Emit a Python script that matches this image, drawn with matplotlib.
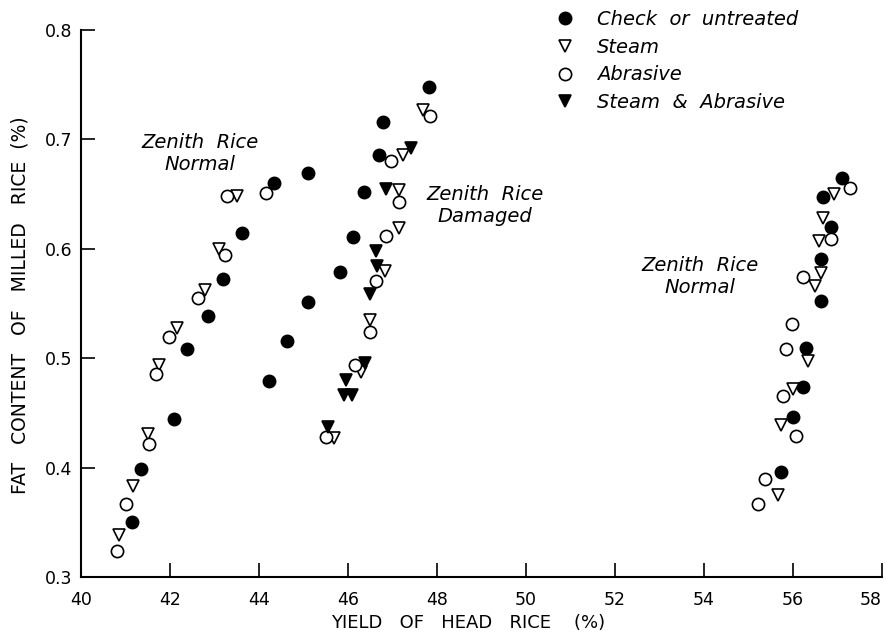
import matplotlib
matplotlib.use("Agg")
import matplotlib.pyplot as plt

# Fat content vs yield of head rice
check_x = [41.15, 41.35, 42.09, 42.38, 42.86, 43.20, 43.61, 44.34, 45.11,
           44.23, 44.63, 45.09, 45.82, 46.12, 46.37, 46.70, 46.78, 47.83,
           55.73, 55.99, 56.23, 56.29, 56.63, 56.62, 56.85, 56.68, 57.09]
check_y = [0.350, 0.399, 0.444, 0.508, 0.539, 0.572, 0.614, 0.660, 0.669,
           0.479, 0.516, 0.551, 0.579, 0.611, 0.652, 0.686, 0.716, 0.748,
           0.396, 0.446, 0.474, 0.509, 0.552, 0.591, 0.620, 0.647, 0.665]

steam_x = [40.86, 41.16, 41.51, 41.76, 42.16, 42.79, 43.09, 43.50,
           45.68, 46.30, 46.50, 46.83, 47.15, 47.15, 47.24, 47.69,
           55.66, 55.72, 56.01, 56.33, 56.49, 56.62, 56.58, 56.67, 56.93]
steam_y = [0.338, 0.383, 0.431, 0.494, 0.528, 0.562, 0.600, 0.648,
           0.427, 0.487, 0.535, 0.580, 0.619, 0.654, 0.686, 0.727,
           0.375, 0.439, 0.472, 0.497, 0.566, 0.578, 0.607, 0.628, 0.650]

abras_x = [40.80, 41.01, 41.53, 41.69, 41.98, 42.64, 43.24, 43.27, 44.16,
           45.50, 46.15, 46.50, 46.62, 46.85, 47.15, 46.97, 47.84,
           55.21, 55.36, 56.07, 55.77, 55.84, 55.98, 56.23, 56.85, 57.27]
abras_y = [0.324, 0.367, 0.422, 0.486, 0.519, 0.555, 0.594, 0.648, 0.651,
           0.428, 0.494, 0.524, 0.571, 0.612, 0.643, 0.680, 0.721,
           0.367, 0.390, 0.429, 0.465, 0.508, 0.531, 0.574, 0.609, 0.656]

sa_x = [45.55, 45.90, 46.08, 45.95, 46.38, 46.49, 46.66, 46.63, 46.85, 47.42]
sa_y = [0.437, 0.466, 0.466, 0.480, 0.496, 0.559, 0.584, 0.598, 0.655, 0.692]

labels = ["Check  or  untreated", "Steam", "Abrasive", "Steam  &  Abrasive"]
xticks = [40, 42, 44, 46, 48, 50, 52, 54, 56, 58]
yticks = [0.3, 0.4, 0.5, 0.6, 0.7, 0.8]

fig = plt.figure(figsize=(8.87, 6.39), dpi=100)
ax = fig.add_axes([81 / 887, 62 / 639, 801 / 887, 547 / 639])

ms = 8.8
mew = 1.2
h1, = ax.plot(check_x, check_y, "o", ms=ms, color="black", mew=mew)
h2, = ax.plot(steam_x, steam_y, "v", ms=ms, mfc="white", mec="black", mew=mew)
h3, = ax.plot(abras_x, abras_y, "o", ms=ms, mfc="white", mec="black", mew=mew)
h4, = ax.plot(sa_x, sa_y, "v", ms=ms, color="black", mew=mew)

ax.set_xlim(40, 58)
ax.set_ylim(0.3, 0.8)
ax.set_xticks(xticks)
ax.set_yticks(yticks)
ax.set_xticklabels([str(t) for t in xticks])
ax.set_yticklabels(["%.1f" % t for t in yticks])
for s in ["top", "right"]:
    ax.spines[s].set_visible(False)
for s in ["left", "bottom"]:
    ax.spines[s].set_linewidth(1.5)
ax.tick_params(direction="in", length=10, width=1.2, labelsize=12.5)
ax.tick_params(axis="x", pad=10)
ax.tick_params(axis="y", pad=6)
# last x label sits inside the figure edge, as in the original
ax.get_xticklabels()[-1].set_horizontalalignment("right")

txt = dict(fontsize=14, style="italic", ha="center", va="center")
ax.text(42.67, 0.687, "Zenith  Rice\nNormal", **txt)
ax.text(49.08, 0.640, "Zenith  Rice\nDamaged", **txt)
ax.text(53.91, 0.575, "Zenith  Rice\nNormal", **txt)

fig.text(468 / 887, 16 / 639, "YIELD   OF   HEAD   RICE    (%)", fontsize=13,
         ha="center", va="center")
fig.text(20 / 887, 1 - 305 / 639, "FAT   CONTENT   OF   MILLED   RICE  (%)",
         fontsize=13.5, rotation=90, ha="center", va="center")

leg = fig.legend([h1, h2, h3, h4], labels, loc="upper left",
                 bbox_to_anchor=(555 / 887, 1 - 10 / 639), frameon=False,
                 handlelength=1.0, handletextpad=1.15, borderpad=0,
                 borderaxespad=0, labelspacing=0.45, numpoints=1,
                 prop=dict(size=14, style="italic"))

fig.savefig("out.png", dpi=100)
